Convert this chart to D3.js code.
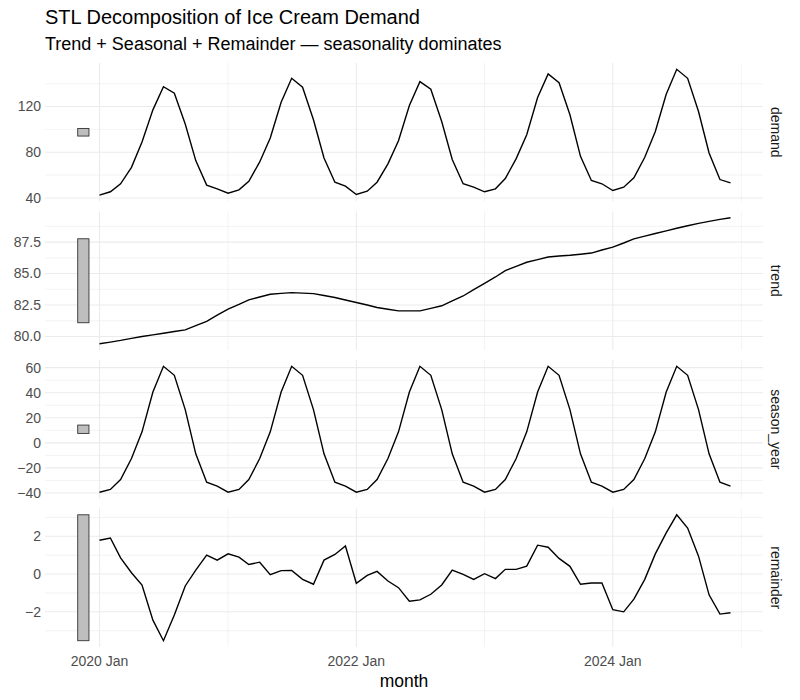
<!DOCTYPE html>
<html>
<head>
<meta charset="utf-8">
<script src="https://cdn.jsdelivr.net/npm/d3@7"></script>
<style>
	body { margin: 0; background: #fff; }
	svg { font-family: 'Liberation Sans', Arial, sans-serif; }
</style>
</head>
<body>
<svg id="chart" width="800" height="700"></svg>
<script>

var components = ['demand', 'trend', 'season_year', 'remainder']

var demand = [42.4, 45.4, 52.4, 66.8, 89.0, 117.1, 137.4, 131.7, 104.7, 72.7, 51.2, 48.0,
	44.2, 47.1, 54.6, 71.5, 92.5, 123.8, 144.7, 136.9, 108.4, 75.0, 53.8, 50.3,
	43.0, 45.9, 53.8, 69.8, 90.1, 120.9, 141.8, 135.2, 106.9, 73.6, 52.4, 49.4,
	45.4, 48.0, 57.0, 74.4, 95.3, 127.9, 148.5, 140.9, 112.8, 76.4, 55.3, 52.4,
	46.5, 49.4, 57.6, 75.6, 98.2, 130.8, 152.6, 144.7, 115.6, 79.4, 56.1, 53.2]

var trend = [79.43, 79.56, 79.69, 79.85, 80.00, 80.13, 80.26, 80.40, 80.53, 80.87, 81.21, 81.70,
	82.18, 82.55, 82.91, 83.14, 83.36, 83.43, 83.49, 83.45, 83.41, 83.26, 83.10, 82.90,
	82.70, 82.50, 82.31, 82.17, 82.04, 82.04, 82.04, 82.24, 82.44, 82.83, 83.22, 83.72,
	84.22, 84.73, 85.24, 85.57, 85.90, 86.11, 86.32, 86.39, 86.45, 86.54, 86.63, 86.87,
	87.10, 87.43, 87.76, 87.97, 88.18, 88.39, 88.60, 88.80, 88.99, 89.15, 89.30, 89.43]

var season_year = [-39.4, -37.2, -29.3, -12.5, 8.8, 40.6, 61.1, 53.9, 26.5, -8.8, -31.4, -34.6,
	-39.4, -37.2, -29.3, -12.5, 8.8, 40.6, 61.1, 53.9, 26.5, -8.8, -31.4, -34.6,
	-39.4, -37.2, -29.3, -12.5, 8.8, 40.6, 61.1, 53.9, 26.5, -8.8, -31.4, -34.6,
	-39.4, -37.2, -29.3, -12.5, 8.8, 40.6, 61.1, 53.9, 26.5, -8.8, -31.4, -34.6,
	-39.4, -37.2, -29.3, -12.5, 8.8, 40.6, 61.1, 53.9, 26.5, -8.8, -31.4, -34.6]

var remainder = [1.79, 1.91, 0.86, 0.07, -0.58, -2.44, -3.53, -2.17, -0.63, 0.21, 1.00, 0.74,
	1.07, 0.90, 0.51, 0.63, -0.03, 0.18, 0.19, -0.28, -0.54, 0.74, 1.04, 1.49,
	-0.49, -0.07, 0.14, -0.37, -0.72, -1.44, -1.37, -1.07, -0.58, 0.21, -0.02, -0.28,
	0.02, -0.24, 0.25, 0.25, 0.42, 1.53, 1.42, 0.83, 0.41, -0.54, -0.47, -0.47,
	-1.89, -2.00, -1.33, -0.28, 1.07, 2.18, 3.14, 2.44, 0.95, -1.10, -2.12, -2.05]

// y tick labels per panel
var yTicks = {
	demand: [40, 80, 120],
	trend: [80, 82.5, 85, 87.5],
	season_year: [-40, -20, 0, 20, 40, 60],
	remainder: [-2, 0, 2]
}
var yFormat = { demand: 'd', trend: '.1f', season_year: 'd', remainder: 'd' }

var xMajor = ['2020-01', '2022-01', '2024-01']
var xMinor = ['2021-01', '2023-01', '2025-01']

var months = d3.timeMonth.range(new Date(2020, 0, 1), new Date(2025, 0, 1))
var series = { demand: demand, trend: trend, season_year: season_year, remainder: remainder }

var parseYm = d3.timeParse('%Y-%m')

var panelLeft = 45,
	panelRight = 763,
	panelTop = 63,
	panelH = 138.5,
	gap = 10

var svg = d3.select('#chart')

var x = d3.scaleTime()
	.domain([months[0], months[months.length - 1]])
	.range([99.5, 730.5])

// smallest range across components -> size of the grey scale bars
var minRange = d3.min(components, c => d3.max(series[c]) - d3.min(series[c]))

var line = d3.line()
	.x((d, i) => x(months[i]))

components.forEach(function(c, k) {
	var vals = series[c]
	var lo = d3.min(vals), hi = d3.max(vals)
	var pad = (hi - lo) * 0.05
	var top = panelTop + k * (panelH + gap)
	var y = d3.scaleLinear()
		.domain([lo - pad, hi + pad])
		.range([top + panelH, top])

	var g = svg.append('g').attr('class', 'panel')

	// minor horizontal grid (midpoints between majors)
	var maj = yTicks[c]
	var step = maj[1] - maj[0]
	var minors = [maj[0] - step / 2].concat(maj.map(v => v + step / 2))
		.filter(v => v > y.domain()[0] && v < y.domain()[1])

	g.selectAll('.yminor')
		.data(minors)
		.enter().append('line')
		.attr('x1', panelLeft)
		.attr('x2', panelRight)
		.attr('y1', d => y(d))
		.attr('y2', d => y(d))
		.attr('stroke', '#ebebeb')
		.attr('stroke-width', 0.6)

	g.selectAll('.ymajor')
		.data(maj)
		.enter().append('line')
		.attr('x1', panelLeft)
		.attr('x2', panelRight)
		.attr('y1', d => y(d))
		.attr('y2', d => y(d))
		.attr('stroke', '#ebebeb')
		.attr('stroke-width', 1.1)

	g.selectAll('.xminor')
		.data(xMinor)
		.enter().append('line')
		.attr('x1', d => x(parseYm(d)))
		.attr('x2', d => x(parseYm(d)))
		.attr('y1', top)
		.attr('y2', top + panelH)
		.attr('stroke', '#ebebeb')
		.attr('stroke-width', 0.6)

	g.selectAll('.xmajor')
		.data(xMajor)
		.enter().append('line')
		.attr('x1', d => x(parseYm(d)))
		.attr('x2', d => x(parseYm(d)))
		.attr('y1', top)
		.attr('y2', top + panelH)
		.attr('stroke', '#ebebeb')
		.attr('stroke-width', 1.1)

	// y tick labels
	g.selectAll('.ylab')
		.data(maj)
		.enter().append('text')
		.attr('x', panelLeft - 4)
		.attr('y', d => y(d))
		.attr('dy', '0.35em')
		.attr('text-anchor', 'end')
		.attr('font-size', 14)
		.attr('fill', '#4d4d4d')
		.text(d => d3.format(yFormat[c])(d))

	// scale bar
	var mid = (lo + hi) / 2
	g.append('rect')
		.attr('x', x(new Date(2019, 9, 31)))
		.attr('width', x(new Date(2019, 11, 2)) - x(new Date(2019, 9, 31)))
		.attr('y', y(mid + minRange / 2))
		.attr('height', y(mid - minRange / 2) - y(mid + minRange / 2))
		.attr('fill', '#bebebe')
		.attr('stroke', '#333')
		.attr('stroke-width', 0.9)

	g.append('path')
		.datum(vals)
		.attr('d', line.y(d => y(d)))
		.attr('fill', 'none')
		.attr('stroke', '#000')
		.attr('stroke-width', 1.4)

	// strip label on the right
	g.append('text')
		.attr('transform', 'translate(771,' + (top + panelH / 2) + ') rotate(90)')
		.attr('text-anchor', 'middle')
		.attr('font-size', 14)
		.attr('fill', '#1a1a1a')
		.text(c)
})

var bottom = panelTop + 4 * panelH + 3 * gap

svg.selectAll('.xlab')
	.data(xMajor)
	.enter().append('text')
	.attr('x', d => x(parseYm(d)))
	.attr('y', bottom + 19)
	.attr('text-anchor', 'middle')
	.attr('font-size', 14)
	.attr('fill', '#4d4d4d')
	.text(d => d3.timeFormat('%Y %b')(parseYm(d)))

svg.append('text')
	.attr('x', (panelLeft + panelRight) / 2)
	.attr('y', bottom + 40)
	.attr('text-anchor', 'middle')
	.attr('font-size', 17.5)
	.attr('fill', '#000')
	.text('month')

svg.append('text')
	.attr('x', panelLeft)
	.attr('y', 24)
	.attr('font-size', 20)
	.attr('fill', '#000')
	.text('STL Decomposition of Ice Cream Demand')

svg.append('text')
	.attr('x', panelLeft)
	.attr('y', 50)
	.attr('font-size', 18)
	.attr('fill', '#000')
	.text('Trend + Seasonal + Remainder \u2014 seasonality dominates')

</script>
</body>
</html>
